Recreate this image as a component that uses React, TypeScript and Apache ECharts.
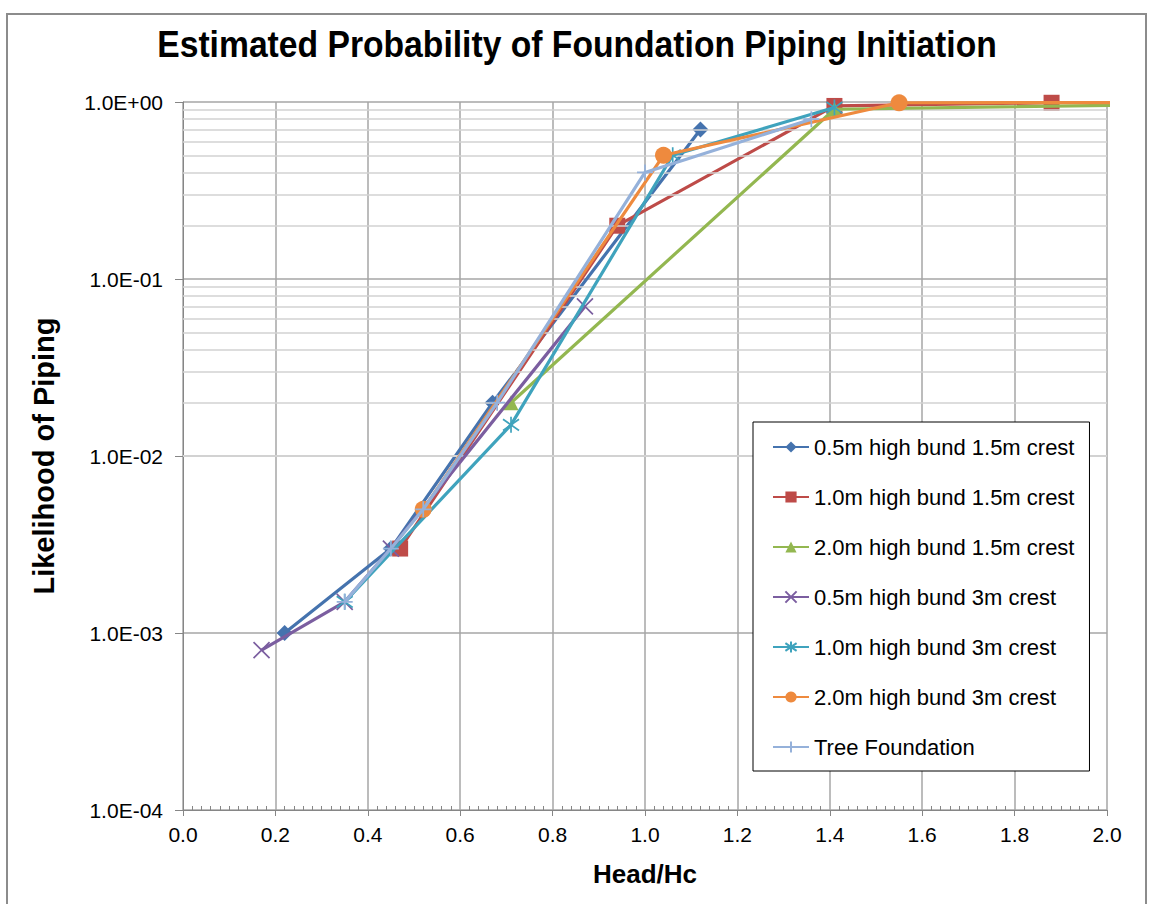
import React, { useEffect, useRef } from "react";
import * as echarts from "echarts";

const seriesNames = [
  "0.5m high bund 1.5m crest",
  "1.0m high bund 1.5m crest",
  "2.0m high bund 1.5m crest",
  "0.5m high bund 3m crest",
  "1.0m high bund 3m crest",
  "2.0m high bund 3m crest",
  "Tree Foundation",
];

const bund05crest15: [number, number][] = [[0.22, 0.001], [0.45, 0.003], [0.67, 0.02], [1.12, 0.7]];
const bund10crest15: [number, number][] = [[0.47, 0.003], [0.94, 0.2], [1.41, 0.95], [1.88, 0.99]];
const bund20crest15: [number, number][] = [[0.71, 0.02], [1.41, 0.91], [2.5, 1.0]];
const bund05crest3: [number, number][] = [[0.17, 0.0008], [0.35, 0.0015], [0.45, 0.003], [0.87, 0.07]];
const bund10crest3: [number, number][] = [[0.35, 0.0015], [0.71, 0.015], [1.06, 0.5], [1.41, 0.93]];
const bund20crest3: [number, number][] = [[0.52, 0.005], [1.04, 0.5], [1.55, 0.99], [2.5, 0.995]];
const treeFoundation: [number, number][] = [[0.35, 0.0015], [0.45, 0.003], [0.52, 0.005], [0.68, 0.02], [1.0, 0.4], [1.36, 0.8]];

const seriesData = [bund05crest15, bund10crest15, bund20crest15, bund05crest3, bund10crest3, bund20crest3, treeFoundation];
const colors = ["#4573AE", "#BE4B48", "#93B750", "#7B5EA0", "#3FA3BD", "#EE8A3E", "#95B1DA"];
const symbols = [
  "diamond",
  "rect",
  "triangle",
  "path://M0,0L10,10M10,0L0,10",
  "path://M5,0L5,10M1.5,1.5L8.5,8.5M8.5,1.5L1.5,8.5",
  "circle",
  "path://M5,0L5,10M0,5L10,5",
];
const symbolSizes = [16, 16, 15, 16, 16, 17, 16];

const decades = [0.0001, 0.001, 0.01, 0.1];
const minorMultipliers = [2, 3, 4, 5, 6, 7, 8, 9];

const titleText = "Estimated Probability of Foundation Piping Initiation";

const fmtExp = (v: number) => {
  const e = Math.round(Math.log10(v));
  return `1.0E${e < 0 ? "-" : "+"}${String(Math.abs(e)).padStart(2, "0")}`;
};

export default function App() {
  const ref = useRef<HTMLDivElement>(null);
  useEffect(() => {
    if (!ref.current) return;
    const chart = echarts.init(ref.current, undefined, { renderer: "svg" });
    const minorLines: any[] = [];
    decades.forEach((d) => minorMultipliers.forEach((m) => minorLines.push({ yAxis: d * m })));

    const font = "'Liberation Sans', Arial, sans-serif";
    const series: any[] = [
      {
        type: "line",
        name: "__grid",
        data: [],
        z: 1,
        silent: true,
        markLine: {
          silent: true,
          symbol: "none",
          label: { show: false },
          animation: false,
          lineStyle: { color: "#d2d2d2", width: 1.5, type: "solid" },
          data: minorLines,
        },
      },
    ];
    seriesNames.forEach((name, i) => {
      const isPath = symbols[i].startsWith("path://");
      series.push({
        type: "line",
        name,
        data: seriesData[i],
        z: 3 + i,
        clip: true,
        symbol: symbols[i],
        symbolSize: symbolSizes[i],
        showSymbol: true,
        lineStyle: { color: colors[i], width: 3.2 },
        itemStyle: isPath
          ? { color: colors[i], borderColor: colors[i], borderWidth: 1.7 }
          : { color: colors[i], borderWidth: 0 },
        emphasis: { disabled: true },
      });
    });

    chart.setOption({
      animation: false,
      backgroundColor: "#ffffff",
      textStyle: { fontFamily: font },
      graphic: [
        {
          type: "rect",
          shape: { x: 7, y: 14, width: 1139, height: 900 },
          style: { fill: "none", stroke: "#8c8c8c", lineWidth: 2 },
          silent: true,
          z: -1,
        },
        {
          type: "text",
          x: 577,
          y: 25,
          scaleX: 0.91,
          silent: true,
          style: {
            text: titleText,
            fontFamily: font,
            fontWeight: "bold",
            fontSize: 37,
            fill: "#000",
            textAlign: "center",
            textVerticalAlign: "top",
          },
        },
      ],
      grid: { left: 183, top: 102, width: 924, height: 708, containLabel: false, outerBoundsMode: "none" },
      legend: {
        orient: "vertical",
        left: 753,
        top: 422,
        padding: [13, 15, 12, 19],
        itemWidth: 36,
        itemHeight: 14,
        itemGap: 26,
        backgroundColor: "#ffffff",
        borderColor: "#000000",
        borderWidth: 1,
        data: seriesNames,
        textStyle: { fontFamily: font, fontSize: 22, color: "#000", lineHeight: 24 },
        z: 20,
      },
      xAxis: [
        {
          type: "value",
          min: 0,
          max: 2,
          interval: 0.2,
          name: "Head/Hc",
          nameLocation: "middle",
          nameGap: 51,
          nameTextStyle: { fontFamily: font, fontWeight: "bold", fontSize: 26, color: "#000" },
          axisLine: { show: true, lineStyle: { color: "#868686", width: 1 } },
          axisTick: { show: true, inside: false, length: 6, lineStyle: { color: "#868686" } },
          axisLabel: { fontFamily: font, fontSize: 21, color: "#000", margin: 14, formatter: (v: number) => v.toFixed(1) },
          splitLine: { show: true, lineStyle: { color: "#a6a6a6", width: 1.5 } },
        },
        {
          type: "value",
          min: 0,
          max: 2,
          interval: 0.2,
          position: "bottom",
          axisLine: { show: false },
          axisTick: { show: false, inside: true },
          minorTick: { show: true, splitNumber: 10, length: 4, lineStyle: { color: "#868686" } },
          axisLabel: { show: false },
          splitLine: { show: false },
        },
      ],
      yAxis: {
        type: "log",
        logBase: 10,
        min: 0.0001,
        max: 1,
        name: "Likelihood of Piping",
        nameLocation: "middle",
        nameGap: 125,
        nameTextStyle: { fontFamily: font, fontWeight: "bold", fontSize: 29, color: "#000" },
        axisLine: { show: true, lineStyle: { color: "#868686", width: 1 } },
        axisTick: { show: true, inside: false, length: 8, lineStyle: { color: "#868686" } },
        axisLabel: { fontFamily: font, fontSize: 21, color: "#000", margin: 20, formatter: fmtExp },
        splitLine: { show: true, lineStyle: { color: "#a6a6a6", width: 1.5 } },
      },
      series,
    });
    return () => chart.dispose();
  }, []);
  return <div ref={ref} style={{ position: "fixed", left: 0, top: 0, width: 1149, height: 904 }} />;
}
